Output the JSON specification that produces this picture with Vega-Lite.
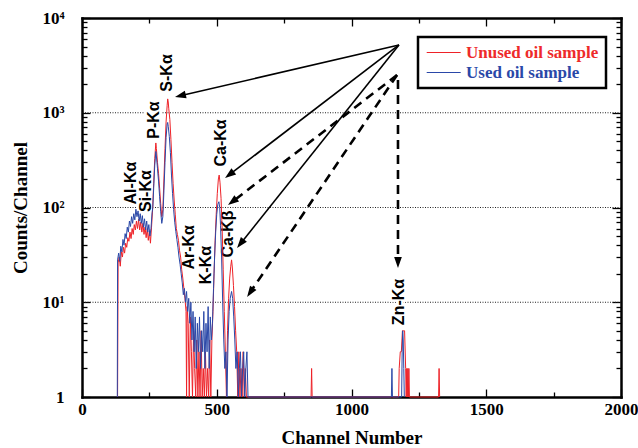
{
  "$schema": "https://vega.github.io/schema/vega-lite/v6.json",
  "width": 539,
  "height": 379,
  "autosize": {"type": "none"},
  "padding": {"left": 82, "top": 18, "right": 17, "bottom": 51},
  "background": "white",
  "datasets": {
    "spec": [
      {"ch":132,"c":1,"s":"Unused oil sample"},{"ch":134,"c":26,"s":"Unused oil sample"},{"ch":138,"c":30,"s":"Unused oil sample"},{"ch":142,"c":24,"s":"Unused oil sample"},{"ch":146,"c":34,"s":"Unused oil sample"},{"ch":150,"c":30,"s":"Unused oil sample"},{"ch":154,"c":38,"s":"Unused oil sample"},{"ch":158,"c":33,"s":"Unused oil sample"},{"ch":162,"c":42,"s":"Unused oil sample"},{"ch":166,"c":38,"s":"Unused oil sample"},{"ch":170,"c":48,"s":"Unused oil sample"},{"ch":174,"c":44,"s":"Unused oil sample"},{"ch":178,"c":55,"s":"Unused oil sample"},{"ch":182,"c":47,"s":"Unused oil sample"},{"ch":186,"c":60,"s":"Unused oil sample"},{"ch":190,"c":52,"s":"Unused oil sample"},{"ch":194,"c":66,"s":"Unused oil sample"},{"ch":198,"c":58,"s":"Unused oil sample"},{"ch":202,"c":72,"s":"Unused oil sample"},{"ch":206,"c":60,"s":"Unused oil sample"},{"ch":210,"c":75,"s":"Unused oil sample"},{"ch":214,"c":58,"s":"Unused oil sample"},{"ch":218,"c":70,"s":"Unused oil sample"},{"ch":222,"c":55,"s":"Unused oil sample"},{"ch":226,"c":68,"s":"Unused oil sample"},{"ch":230,"c":52,"s":"Unused oil sample"},{"ch":234,"c":62,"s":"Unused oil sample"},{"ch":238,"c":48,"s":"Unused oil sample"},{"ch":242,"c":60,"s":"Unused oil sample"},{"ch":246,"c":45,"s":"Unused oil sample"},{"ch":250,"c":56,"s":"Unused oil sample"},{"ch":254,"c":42,"s":"Unused oil sample"},{"ch":258,"c":62,"s":"Unused oil sample"},{"ch":262,"c":95,"s":"Unused oil sample"},{"ch":266,"c":180,"s":"Unused oil sample"},{"ch":270,"c":330,"s":"Unused oil sample"},{"ch":274,"c":480,"s":"Unused oil sample"},{"ch":276,"c":420,"s":"Unused oil sample"},{"ch":280,"c":300,"s":"Unused oil sample"},{"ch":284,"c":230,"s":"Unused oil sample"},{"ch":288,"c":160,"s":"Unused oil sample"},{"ch":292,"c":110,"s":"Unused oil sample"},{"ch":296,"c":80,"s":"Unused oil sample"},{"ch":300,"c":95,"s":"Unused oil sample"},{"ch":304,"c":200,"s":"Unused oil sample"},{"ch":308,"c":420,"s":"Unused oil sample"},{"ch":312,"c":800,"s":"Unused oil sample"},{"ch":316,"c":1200,"s":"Unused oil sample"},{"ch":318,"c":1400,"s":"Unused oil sample"},{"ch":320,"c":1300,"s":"Unused oil sample"},{"ch":322,"c":1100,"s":"Unused oil sample"},{"ch":326,"c":850,"s":"Unused oil sample"},{"ch":330,"c":520,"s":"Unused oil sample"},{"ch":334,"c":300,"s":"Unused oil sample"},{"ch":338,"c":180,"s":"Unused oil sample"},{"ch":342,"c":120,"s":"Unused oil sample"},{"ch":346,"c":85,"s":"Unused oil sample"},{"ch":350,"c":60,"s":"Unused oil sample"},{"ch":354,"c":52,"s":"Unused oil sample"},{"ch":358,"c":45,"s":"Unused oil sample"},{"ch":362,"c":35,"s":"Unused oil sample"},{"ch":366,"c":30,"s":"Unused oil sample"},{"ch":370,"c":22,"s":"Unused oil sample"},{"ch":374,"c":18,"s":"Unused oil sample"},{"ch":378,"c":14,"s":"Unused oil sample"},{"ch":382,"c":11,"s":"Unused oil sample"},{"ch":386,"c":8,"s":"Unused oil sample"},{"ch":388,"c":1,"s":"Unused oil sample"},{"ch":390,"c":9,"s":"Unused oil sample"},{"ch":394,"c":6,"s":"Unused oil sample"},{"ch":398,"c":1,"s":"Unused oil sample"},{"ch":402,"c":7,"s":"Unused oil sample"},{"ch":406,"c":3,"s":"Unused oil sample"},{"ch":410,"c":1,"s":"Unused oil sample"},{"ch":414,"c":5,"s":"Unused oil sample"},{"ch":418,"c":2,"s":"Unused oil sample"},{"ch":422,"c":1,"s":"Unused oil sample"},{"ch":426,"c":4,"s":"Unused oil sample"},{"ch":430,"c":1,"s":"Unused oil sample"},{"ch":434,"c":3,"s":"Unused oil sample"},{"ch":438,"c":1,"s":"Unused oil sample"},{"ch":442,"c":5,"s":"Unused oil sample"},{"ch":446,"c":1,"s":"Unused oil sample"},{"ch":450,"c":2,"s":"Unused oil sample"},{"ch":454,"c":1,"s":"Unused oil sample"},{"ch":458,"c":3,"s":"Unused oil sample"},{"ch":462,"c":1,"s":"Unused oil sample"},{"ch":466,"c":2,"s":"Unused oil sample"},{"ch":470,"c":1,"s":"Unused oil sample"},{"ch":474,"c":4,"s":"Unused oil sample"},{"ch":478,"c":1,"s":"Unused oil sample"},{"ch":482,"c":4,"s":"Unused oil sample"},{"ch":486,"c":8,"s":"Unused oil sample"},{"ch":490,"c":20,"s":"Unused oil sample"},{"ch":494,"c":45,"s":"Unused oil sample"},{"ch":498,"c":85,"s":"Unused oil sample"},{"ch":502,"c":140,"s":"Unused oil sample"},{"ch":506,"c":200,"s":"Unused oil sample"},{"ch":509,"c":220,"s":"Unused oil sample"},{"ch":512,"c":185,"s":"Unused oil sample"},{"ch":516,"c":125,"s":"Unused oil sample"},{"ch":520,"c":60,"s":"Unused oil sample"},{"ch":524,"c":22,"s":"Unused oil sample"},{"ch":528,"c":8,"s":"Unused oil sample"},{"ch":532,"c":3,"s":"Unused oil sample"},{"ch":536,"c":1,"s":"Unused oil sample"},{"ch":540,"c":5,"s":"Unused oil sample"},{"ch":544,"c":11,"s":"Unused oil sample"},{"ch":548,"c":18,"s":"Unused oil sample"},{"ch":552,"c":24,"s":"Unused oil sample"},{"ch":555,"c":28,"s":"Unused oil sample"},{"ch":558,"c":23,"s":"Unused oil sample"},{"ch":562,"c":15,"s":"Unused oil sample"},{"ch":566,"c":9,"s":"Unused oil sample"},{"ch":570,"c":5,"s":"Unused oil sample"},{"ch":574,"c":3,"s":"Unused oil sample"},{"ch":578,"c":1,"s":"Unused oil sample"},{"ch":582,"c":3,"s":"Unused oil sample"},{"ch":586,"c":1,"s":"Unused oil sample"},{"ch":590,"c":2,"s":"Unused oil sample"},{"ch":594,"c":1,"s":"Unused oil sample"},{"ch":598,"c":3,"s":"Unused oil sample"},{"ch":602,"c":1,"s":"Unused oil sample"},{"ch":606,"c":2,"s":"Unused oil sample"},{"ch":610,"c":1,"s":"Unused oil sample"},{"ch":850,"c":1,"s":"Unused oil sample"},{"ch":852,"c":2,"s":"Unused oil sample"},{"ch":854,"c":1,"s":"Unused oil sample"},{"ch":1175,"c":1,"s":"Unused oil sample"},{"ch":1177,"c":2,"s":"Unused oil sample"},{"ch":1181,"c":3,"s":"Unused oil sample"},{"ch":1185,"c":3,"s":"Unused oil sample"},{"ch":1189,"c":5,"s":"Unused oil sample"},{"ch":1193,"c":5,"s":"Unused oil sample"},{"ch":1197,"c":5,"s":"Unused oil sample"},{"ch":1201,"c":2,"s":"Unused oil sample"},{"ch":1203,"c":1,"s":"Unused oil sample"},{"ch":1205,"c":2,"s":"Unused oil sample"},{"ch":1207,"c":1,"s":"Unused oil sample"},{"ch":1209,"c":2,"s":"Unused oil sample"},{"ch":1211,"c":1,"s":"Unused oil sample"},{"ch":1213,"c":2,"s":"Unused oil sample"},{"ch":1215,"c":1,"s":"Unused oil sample"},{"ch":1323,"c":1,"s":"Unused oil sample"},{"ch":1325,"c":2,"s":"Unused oil sample"},{"ch":1327,"c":1,"s":"Unused oil sample"},
      {"ch":131,"c":1,"s":"Used oil sample"},{"ch":132,"c":28,"s":"Used oil sample"},{"ch":136,"c":33,"s":"Used oil sample"},{"ch":140,"c":27,"s":"Used oil sample"},{"ch":144,"c":39,"s":"Used oil sample"},{"ch":148,"c":34,"s":"Used oil sample"},{"ch":152,"c":46,"s":"Used oil sample"},{"ch":156,"c":40,"s":"Used oil sample"},{"ch":160,"c":53,"s":"Used oil sample"},{"ch":164,"c":47,"s":"Used oil sample"},{"ch":168,"c":62,"s":"Used oil sample"},{"ch":172,"c":55,"s":"Used oil sample"},{"ch":176,"c":72,"s":"Used oil sample"},{"ch":180,"c":63,"s":"Used oil sample"},{"ch":184,"c":80,"s":"Used oil sample"},{"ch":188,"c":68,"s":"Used oil sample"},{"ch":192,"c":86,"s":"Used oil sample"},{"ch":196,"c":74,"s":"Used oil sample"},{"ch":200,"c":96,"s":"Used oil sample"},{"ch":204,"c":80,"s":"Used oil sample"},{"ch":208,"c":92,"s":"Used oil sample"},{"ch":212,"c":72,"s":"Used oil sample"},{"ch":216,"c":86,"s":"Used oil sample"},{"ch":220,"c":68,"s":"Used oil sample"},{"ch":224,"c":82,"s":"Used oil sample"},{"ch":228,"c":62,"s":"Used oil sample"},{"ch":232,"c":76,"s":"Used oil sample"},{"ch":236,"c":58,"s":"Used oil sample"},{"ch":240,"c":72,"s":"Used oil sample"},{"ch":244,"c":55,"s":"Used oil sample"},{"ch":248,"c":66,"s":"Used oil sample"},{"ch":252,"c":50,"s":"Used oil sample"},{"ch":256,"c":60,"s":"Used oil sample"},{"ch":260,"c":88,"s":"Used oil sample"},{"ch":263,"c":102,"s":"Used oil sample"},{"ch":266,"c":160,"s":"Used oil sample"},{"ch":270,"c":280,"s":"Used oil sample"},{"ch":274,"c":390,"s":"Used oil sample"},{"ch":276,"c":350,"s":"Used oil sample"},{"ch":280,"c":260,"s":"Used oil sample"},{"ch":284,"c":190,"s":"Used oil sample"},{"ch":288,"c":130,"s":"Used oil sample"},{"ch":292,"c":90,"s":"Used oil sample"},{"ch":296,"c":68,"s":"Used oil sample"},{"ch":300,"c":80,"s":"Used oil sample"},{"ch":304,"c":150,"s":"Used oil sample"},{"ch":308,"c":300,"s":"Used oil sample"},{"ch":312,"c":550,"s":"Used oil sample"},{"ch":316,"c":760,"s":"Used oil sample"},{"ch":318,"c":790,"s":"Used oil sample"},{"ch":320,"c":720,"s":"Used oil sample"},{"ch":324,"c":560,"s":"Used oil sample"},{"ch":328,"c":380,"s":"Used oil sample"},{"ch":332,"c":220,"s":"Used oil sample"},{"ch":336,"c":140,"s":"Used oil sample"},{"ch":340,"c":95,"s":"Used oil sample"},{"ch":344,"c":70,"s":"Used oil sample"},{"ch":348,"c":56,"s":"Used oil sample"},{"ch":352,"c":46,"s":"Used oil sample"},{"ch":356,"c":38,"s":"Used oil sample"},{"ch":360,"c":30,"s":"Used oil sample"},{"ch":364,"c":25,"s":"Used oil sample"},{"ch":368,"c":20,"s":"Used oil sample"},{"ch":372,"c":16,"s":"Used oil sample"},{"ch":376,"c":12,"s":"Used oil sample"},{"ch":380,"c":14,"s":"Used oil sample"},{"ch":384,"c":10,"s":"Used oil sample"},{"ch":388,"c":13,"s":"Used oil sample"},{"ch":392,"c":8,"s":"Used oil sample"},{"ch":396,"c":11,"s":"Used oil sample"},{"ch":400,"c":6,"s":"Used oil sample"},{"ch":404,"c":10,"s":"Used oil sample"},{"ch":408,"c":4,"s":"Used oil sample"},{"ch":412,"c":8,"s":"Used oil sample"},{"ch":416,"c":3,"s":"Used oil sample"},{"ch":420,"c":7,"s":"Used oil sample"},{"ch":424,"c":2,"s":"Used oil sample"},{"ch":428,"c":6,"s":"Used oil sample"},{"ch":432,"c":3,"s":"Used oil sample"},{"ch":436,"c":7,"s":"Used oil sample"},{"ch":440,"c":2,"s":"Used oil sample"},{"ch":444,"c":5,"s":"Used oil sample"},{"ch":448,"c":3,"s":"Used oil sample"},{"ch":452,"c":8,"s":"Used oil sample"},{"ch":456,"c":2,"s":"Used oil sample"},{"ch":460,"c":6,"s":"Used oil sample"},{"ch":464,"c":3,"s":"Used oil sample"},{"ch":468,"c":9,"s":"Used oil sample"},{"ch":472,"c":2,"s":"Used oil sample"},{"ch":476,"c":7,"s":"Used oil sample"},{"ch":480,"c":4,"s":"Used oil sample"},{"ch":484,"c":6,"s":"Used oil sample"},{"ch":488,"c":14,"s":"Used oil sample"},{"ch":492,"c":30,"s":"Used oil sample"},{"ch":496,"c":55,"s":"Used oil sample"},{"ch":500,"c":85,"s":"Used oil sample"},{"ch":504,"c":108,"s":"Used oil sample"},{"ch":508,"c":115,"s":"Used oil sample"},{"ch":511,"c":100,"s":"Used oil sample"},{"ch":514,"c":65,"s":"Used oil sample"},{"ch":518,"c":30,"s":"Used oil sample"},{"ch":522,"c":10,"s":"Used oil sample"},{"ch":526,"c":4,"s":"Used oil sample"},{"ch":530,"c":2,"s":"Used oil sample"},{"ch":534,"c":3,"s":"Used oil sample"},{"ch":538,"c":1,"s":"Used oil sample"},{"ch":542,"c":4,"s":"Used oil sample"},{"ch":546,"c":8,"s":"Used oil sample"},{"ch":550,"c":11,"s":"Used oil sample"},{"ch":555,"c":13,"s":"Used oil sample"},{"ch":559,"c":11,"s":"Used oil sample"},{"ch":563,"c":7,"s":"Used oil sample"},{"ch":567,"c":4,"s":"Used oil sample"},{"ch":571,"c":2,"s":"Used oil sample"},{"ch":576,"c":3,"s":"Used oil sample"},{"ch":580,"c":1,"s":"Used oil sample"},{"ch":584,"c":2,"s":"Used oil sample"},{"ch":588,"c":3,"s":"Used oil sample"},{"ch":592,"c":1,"s":"Used oil sample"},{"ch":596,"c":2,"s":"Used oil sample"},{"ch":600,"c":3,"s":"Used oil sample"},{"ch":604,"c":1,"s":"Used oil sample"},{"ch":608,"c":2,"s":"Used oil sample"},{"ch":612,"c":3,"s":"Used oil sample"},{"ch":616,"c":1,"s":"Used oil sample"},{"ch":1148,"c":1,"s":"Used oil sample"},{"ch":1150,"c":2,"s":"Used oil sample"},{"ch":1152,"c":1,"s":"Used oil sample"},{"ch":1186,"c":1,"s":"Used oil sample"},{"ch":1188,"c":3,"s":"Used oil sample"},{"ch":1190,"c":5,"s":"Used oil sample"},{"ch":1192,"c":4,"s":"Used oil sample"},{"ch":1194,"c":2,"s":"Used oil sample"},{"ch":1196,"c":1,"s":"Used oil sample"}
    ],
    "labels": [
      {"lab":"S-Kα","x":317,"y":2630},
      {"lab":"P-Kα","x":267,"y":838},
      {"lab":"Ca-Kα","x":516,"y":480},
      {"lab":"Al-Kα","x":182,"y":181},
      {"lab":"Si-Kα","x":237,"y":149},
      {"lab":"Ar-Kα","x":397,"y":38},
      {"lab":"K-Kα","x":460,"y":24.7},
      {"lab":"Ca-Kβ","x":542,"y":52.6},
      {"lab":"Zn-Kα","x":1176,"y":10.06}
    ],
    "arrows": [
      {"x1":1176,"y1":5190,"x2":365,"y2":1510,"k":"solid"},
      {"x1":1176,"y1":5190,"x2":547,"y2":222,"k":"solid"},
      {"x1":1176,"y1":5190,"x2":588,"y2":41.5,"k":"solid"},
      {"x1":1169,"y1":2500,"x2":558,"y2":115,"k":"dash"},
      {"x1":1169,"y1":2500,"x2":624,"y2":12.7,"k":"dash"},
      {"x1":1172.5,"y1":2217,"x2":1172.5,"y2":26.3,"k":"dash"}
    ]
  },
  "layer": [
    {
      "data": {"values": [{"g": 10}, {"g": 100}, {"g": 1000}]},
      "mark": {"type": "rule", "color": "#222", "strokeWidth": 1, "strokeDash": [1, 1.5]},
      "encoding": {"y": {"field": "g", "type": "quantitative", "axis": null}}
    },
    {
      "data": {"name": "labels"},
      "mark": {"type": "text", "angle": 270, "align": "center", "baseline": "middle", "font": "Liberation Sans", "fontWeight": "bold", "fontSize": 16, "fill": "white", "stroke": "white", "strokeWidth": 5},
      "encoding": {
        "x": {"field": "x", "type": "quantitative", "axis": null},
        "y": {"field": "y", "type": "quantitative", "axis": null},
        "text": {"field": "lab"}
      }
    },
    {
      "data": {"name": "labels"},
      "mark": {"type": "text", "angle": 270, "align": "center", "baseline": "middle", "font": "Liberation Sans", "fontWeight": "bold", "fontSize": 16, "fill": "black"},
      "encoding": {
        "x": {"field": "x", "type": "quantitative", "axis": null},
        "y": {"field": "y", "type": "quantitative", "axis": null},
        "text": {"field": "lab"}
      }
    },
    {
      "data": {"name": "spec"},
      "mark": {"type": "line", "strokeWidth": 1, "interpolate": "linear"},
      "encoding": {
        "x": {
          "field": "ch", "type": "quantitative",
          "scale": {"domain": [0, 2000], "nice": false, "zero": false},
          "axis": {
            "orient": "bottom", "title": "Channel Number",
            "values": [0, 250, 500, 750, 1000, 1250, 1500, 1750, 2000],
            "labelExpr": "datum.value % 500 === 0 ? datum.label : ''",
            "format": "d",
            "tickSize": {"condition": {"test": "datum.value % 500 === 0", "value": -8}, "value": -5},
            "labelPadding": 12,
            "titleX": 269.5, "titleY": 40, "titleBaseline": "middle"
          }
        },
        "y": {
          "field": "c", "type": "quantitative",
          "scale": {"type": "log", "domain": [1, 10000], "nice": false},
          "axis": {
            "orient": "left", "title": "Counts/Channel",
            "values": [1,2,3,4,5,6,7,8,9,10,20,30,40,50,60,70,80,90,100,200,300,400,500,600,700,800,900,1000,2000,3000,4000,5000,6000,7000,8000,9000,10000],
            "labelExpr": "datum.value == 1 ? '1' : datum.value == 10 ? '10¹' : datum.value == 100 ? '10²' : datum.value == 1000 ? '10³' : datum.value == 10000 ? '10⁴' : ''",
            "tickSize": {"condition": {"test": "indexof([1,10,100,1000,10000], datum.value) >= 0", "value": -8}, "value": -5},
            "labelPadding": 26,
            "titleX": -62, "titleY": 189.5, "titleBaseline": "middle", "titleAngle": 270
          }
        },
        "color": {
          "field": "s", "type": "nominal",
          "scale": {"domain": ["Unused oil sample", "Used oil sample"], "range": ["#ee2228", "#2a48a8"]},
          "legend": {
            "title": null, "orient": "none", "legendX": 336, "legendY": 19,
            "symbolType": "M-1,0H4", "symbolSize": 185, "symbolStrokeWidth": 1.2,
            "labelFont": "Liberation Serif", "labelFontWeight": "bold", "labelFontSize": 17,
            "labelColor": {"expr": "datum.value === 'Unused oil sample' ? '#ee2a2a' : '#2a48a8'"},
            "labelLimit": 400, "labelOffset": 24,
            "padding": 7, "rowPadding": 2,
            "strokeColor": "black", "fillColor": "white"
          }
        }
      }
    },
    {
      "data": {"name": "arrows"},
      "transform": [{"filter": "datum.k === 'solid'"}],
      "mark": {"type": "rule", "color": "black", "strokeWidth": 1.6},
      "encoding": {
        "x": {"field": "x1", "type": "quantitative", "axis": {"orient": "top", "labels": false, "title": null, "values": [0, 250, 500, 750, 1000, 1250, 1500, 1750, 2000], "tickSize": {"condition": {"test": "datum.value % 500 === 0", "value": -8}, "value": -5}}},
        "y": {"field": "y1", "type": "quantitative", "axis": {"orient": "right", "labels": false, "title": null, "values": [1,2,3,4,5,6,7,8,9,10,20,30,40,50,60,70,80,90,100,200,300,400,500,600,700,800,900,1000,2000,3000,4000,5000,6000,7000,8000,9000,10000], "tickSize": {"condition": {"test": "indexof([1,10,100,1000,10000], datum.value) >= 0", "value": -9}, "value": -5}}},
        "x2": {"field": "x2"},
        "y2": {"field": "y2"}
      }
    },
    {
      "data": {"name": "arrows"},
      "transform": [{"filter": "datum.k === 'dash'"}],
      "mark": {"type": "rule", "color": "black", "strokeWidth": 2.6, "strokeDash": [9, 6]},
      "encoding": {
        "x": {"field": "x1", "type": "quantitative", "axis": null},
        "y": {"field": "y1", "type": "quantitative", "axis": null},
        "x2": {"field": "x2"},
        "y2": {"field": "y2"}
      }
    },
    {"data": {"values": [{"x": 365, "y": 1510}]}, "mark": {"type": "point", "shape": "M0,-1L-0.7,1L0.7,1Z", "angle": 256.9, "size": 121, "filled": true, "color": "black", "opacity": 1}, "encoding": {"x": {"field": "x", "type": "quantitative", "axis": null}, "y": {"field": "y", "type": "quantitative", "axis": null}}},
    {"data": {"values": [{"x": 547, "y": 222}]}, "mark": {"type": "point", "shape": "M0,-1L-0.7,1L0.7,1Z", "angle": 232.6, "size": 121, "filled": true, "color": "black", "opacity": 1}, "encoding": {"x": {"field": "x", "type": "quantitative", "axis": null}, "y": {"field": "y", "type": "quantitative", "axis": null}}},
    {"data": {"values": [{"x": 588, "y": 41.5}]}, "mark": {"type": "point", "shape": "M0,-1L-0.7,1L0.7,1Z", "angle": 218.6, "size": 121, "filled": true, "color": "black", "opacity": 1}, "encoding": {"x": {"field": "x", "type": "quantitative", "axis": null}, "y": {"field": "y", "type": "quantitative", "axis": null}}},
    {"data": {"values": [{"x": 558, "y": 115}]}, "mark": {"type": "point", "shape": "M0,-1L-0.7,1L0.7,1Z", "angle": 232.4, "size": 121, "filled": true, "color": "black", "opacity": 1}, "encoding": {"x": {"field": "x", "type": "quantitative", "axis": null}, "y": {"field": "y", "type": "quantitative", "axis": null}}},
    {"data": {"values": [{"x": 624, "y": 12.7}]}, "mark": {"type": "point", "shape": "M0,-1L-0.7,1L0.7,1Z", "angle": 214, "size": 121, "filled": true, "color": "black", "opacity": 1}, "encoding": {"x": {"field": "x", "type": "quantitative", "axis": null}, "y": {"field": "y", "type": "quantitative", "axis": null}}},
    {"data": {"values": [{"x": 1172.5, "y": 26.3}]}, "mark": {"type": "point", "shape": "M0,-1L-0.7,1L0.7,1Z", "angle": 180, "size": 121, "filled": true, "color": "black", "opacity": 1}, "encoding": {"x": {"field": "x", "type": "quantitative", "axis": null}, "y": {"field": "y", "type": "quantitative", "axis": null}}}
  ],
  "resolve": {"axis": {"x": "independent", "y": "independent"}},
  "config": {
    "view": {"stroke": null},
    "axis": {
      "domainColor": "black", "domainWidth": 2.5, "domainCap": "square",
      "tickColor": "black", "tickWidth": 1.3,
      "grid": false, "zindex": 1,
      "labelFont": "Liberation Serif", "labelFontWeight": "bold", "labelFontSize": 17, "labelColor": "black",
      "titleFont": "Liberation Serif", "titleFontWeight": "bold", "titleFontSize": 19, "titleColor": "black",
      "labelOverlap": false, "labelBound": false, "labelFlush": false
    },
    "legend": {"strokeWidth": 2.5}
  }
}
